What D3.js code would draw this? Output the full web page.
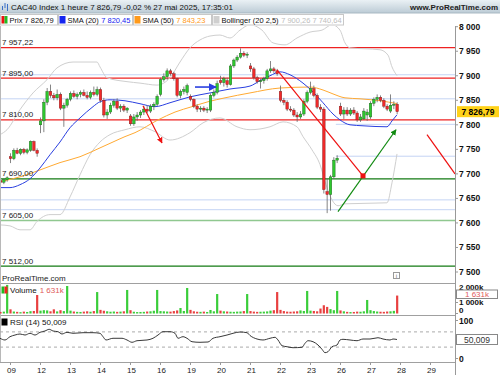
<!DOCTYPE html>
<html>
<head>
<meta charset="utf-8">
<script src="https://cdn.jsdelivr.net/npm/d3@7"></script>
<style>
  body { margin: 0; background: #fff; }
  svg { display: block; font-family: "Liberation Sans", Arial, sans-serif; }
</style>
</head>
<body>
<svg id="chart" width="500" height="375"></svg>
<script>
// ---- données ----
const dayLabels = ["09", "12", "13", "14", "15", "16", "19", "20", "21", "22", "23", "26", "27", "28", "29"];
const firstIndex = -3; // 3 bougies du 08 avant le 09

// [open, high, low, close], bougies 1 heure
const ohlc = [
  // 08
  [7686,7692,7680,7683],[7683,7690,7679,7688],[7688,7695,7684,7692],
  // 09
  [7735,7742,7722,7731],[7731,7752,7728,7748],[7748,7753,7740,7742],[7742,7752,7738,7750],[7750,7753,7740,7744],
  [7744,7752,7740,7749],[7748,7768,7745,7766],[7766,7768,7746,7748],[7748,7752,7735,7742],
  // 12
  [7800,7815,7783,7808],[7808,7852,7785,7846],[7846,7875,7840,7868],[7868,7882,7855,7860],[7860,7865,7850,7855],
  [7855,7872,7850,7862],[7862,7866,7830,7834],[7834,7845,7796,7840],[7840,7855,7835,7852],
  // 13
  [7852,7868,7848,7864],[7864,7870,7855,7858],[7858,7866,7852,7862],[7862,7870,7856,7866],[7866,7872,7858,7860],
  [7860,7868,7852,7856],[7856,7870,7852,7866],[7866,7878,7858,7862],[7862,7878,7858,7872],
  // 14
  [7872,7876,7845,7850],[7850,7855,7815,7820],[7820,7832,7812,7826],[7826,7845,7822,7840],[7840,7852,7835,7848],
  [7848,7854,7830,7834],[7834,7842,7826,7838],[7838,7842,7826,7830],[7830,7836,7824,7834],
  // 15
  [7818,7822,7798,7802],[7802,7822,7798,7816],[7816,7826,7808,7820],[7820,7830,7814,7826],[7826,7838,7820,7832],
  [7832,7840,7824,7828],[7828,7842,7824,7838],[7838,7846,7830,7842],[7842,7862,7838,7858],
  // 16
  [7862,7896,7858,7892],[7892,7905,7888,7898],[7898,7915,7892,7910],[7910,7914,7900,7904],[7904,7908,7890,7894],
  [7894,7896,7856,7860],[7860,7872,7854,7868],[7868,7878,7862,7872],[7866,7884,7860,7880],
  // 19
  [7858,7862,7848,7852],[7852,7854,7834,7838],[7838,7842,7826,7832],[7832,7838,7826,7834],[7834,7838,7826,7830],
  [7830,7836,7824,7832],[7830,7864,7826,7860],[7860,7872,7856,7866],[7866,7890,7862,7884],
  // 20
  [7890,7900,7882,7886],[7886,7898,7878,7894],[7890,7896,7876,7882],[7882,7924,7880,7920],[7920,7935,7916,7932],
  [7932,7942,7928,7938],[7938,7956,7935,7946],[7946,7950,7938,7942],[7942,7948,7936,7944],
  // 21
  [7920,7926,7908,7914],[7914,7918,7892,7896],[7896,7900,7884,7888],[7888,7894,7874,7890],[7890,7898,7884,7894],
  [7894,7914,7890,7910],[7910,7930,7906,7914],[7914,7918,7906,7910],[7910,7914,7900,7904],
  // 22
  [7868,7880,7846,7850],[7850,7855,7840,7846],[7846,7850,7828,7832],[7832,7838,7826,7830],[7830,7834,7816,7820],
  [7820,7826,7806,7816],[7816,7828,7812,7822],[7822,7852,7818,7848],[7848,7870,7844,7866],
  // 23
  [7866,7888,7862,7874],[7874,7880,7856,7860],[7860,7864,7832,7836],[7836,7842,7826,7832],[7832,7836,7660,7668],
  [7664,7690,7620,7658],[7658,7698,7625,7694],[7694,7734,7690,7728],[7728,7738,7722,7732],
  // 26
  [7838,7845,7818,7822],[7822,7836,7812,7830],[7830,7836,7818,7822],[7822,7834,7818,7830],[7830,7836,7820,7824],
  [7824,7828,7806,7810],[7810,7822,7806,7816],[7812,7834,7810,7828],[7820,7832,7808,7826],
  // 27
  [7816,7848,7812,7844],[7844,7856,7838,7852],[7852,7862,7846,7856],[7856,7860,7846,7850],[7850,7854,7834,7838],
  [7838,7842,7828,7832],[7828,7862,7824,7840],[7840,7848,7832,7842],[7842,7846,7822,7826.79]
];

// volumes en milliers
const volumes = [
  140, 170, 2600,
  380, 180, 150, 120, 170, 140, 210, 230, 1680,
  260, 300, 280, 200, 380, 190, 300, 220, 2500,
  260, 180, 150, 140, 170, 200, 160, 220, 1950,
  330, 250, 200, 160, 180, 150, 170, 200, 2140,
  300, 160, 130, 140, 150, 180, 200, 250, 2140,
  220, 200, 180, 170, 220, 280, 500, 230, 2320,
  330, 200, 160, 150, 170, 140, 320, 200, 1770,
  260, 200, 180, 160, 150, 170, 180, 220, 1770,
  220, 170, 150, 160, 170, 190, 260, 300, 1950,
  330, 220, 170, 160, 180, 200, 280, 230, 2050,
  260, 230, 200, 450, 750, 600, 400, 300, 2050,
  280, 200, 150, 130, 140, 170, 160, 200, 1230,
  300, 220, 180, 160, 150, 180, 200, 240, 1631
];

// indicateurs [indice bougie, valeur]
const sma20 = [[-3.15,7672],[-0.15,7672],[2.85,7678],[5.85,7690],[8.85,7712],[11.85,7739],[14.85,7765],[17.85,7794],
  [20.85,7814],[24.75,7837],[26.85,7847],[29.85,7851],[34.35,7849],[38.85,7843],[43.35,7837],[47.85,7845],[53.85,7857],
  [59.85,7865],[65.85,7873],[71.85,7879],[74.85,7890],[77.85,7900],[80.85,7908],[83.85,7902],[87.75,7885],[90.75,7867],
  [93.75,7845],[96.75,7822],[98.85,7810],[101.85,7800],[105.75,7798],[112.95,7796],[114.45,7808],[115.95,7820.45]];
const sma50 = [[-3.15,7684],[2.85,7694],[8.85,7708],[14.85,7723],[20.85,7735],[26.85,7753],[30.75,7765],[34.35,7776],
  [37.35,7784],[44.25,7810],[49.35,7826],[54.45,7837],[59.25,7847],[64.35,7855],[71.85,7865],[80.85,7875],[89.85,7877],
  [93.75,7871],[96.75,7863],[100.35,7855],[104.85,7853],[110.85,7849],[115.95,7843.23]];
const bollUpper = [[-3.15,7780],[-1.05,7790],[2.85,7831],[6.75,7865],[10.95,7892],[13.95,7916],[18.75,7928],[25.95,7928],
  [26.85,7918],[28.95,7896],[34.95,7888],[38.85,7885],[43.95,7881],[47.85,7896],[50.85,7928],[53.85,7957],[56.85,7973],
  [59.85,7981],[62.85,7983],[65.85,7977],[68.85,7993],[71.85,8004],[75.45,7993],[78.75,7967],[82.35,7963],[85.95,7977],
  [89.85,7989],[93.45,7993],[96.45,8004],[98.85,7993],[100.35,7967],[101.85,7957],[110.85,7953],[113.25,7942],
  [114.45,7918],[115.95,7900.26]];
const bollLower = [[-3.15,7596],[-0.15,7594],[2.85,7586],[5.85,7586],[7.95,7603],[11.85,7617],[14.85,7617],[17.85,7653],
  [20.85,7698],[23.85,7739],[26.85,7765],[29.85,7780],[34.35,7790],[38.85,7796],[43.35,7786],[47.85,7769],[53.85,7784],
  [57.75,7804],[62.85,7814],[67.95,7796],[71.85,7790],[77.85,7796],[81.75,7806],[85.95,7796],[87.75,7776],[90.45,7749],
  [92.85,7719],[94.65,7678],[96.45,7647],[98.25,7635],[100.35,7639],[112.95,7641],[114.45,7682],[115.95,7740.64]];
const rsi = [[-3.15,53.2],[-1.65,48.7],[-0.15,57.4],[1.35,61.8],[2.85,64.5],[4.35,61.8],[5.85,66.3],[7.35,61.8],
  [8.85,68.9],[10.35,72.4],[11.6,76.8],[12.75,72.4],[14.25,70.5],[15.45,64.5],[16.95,68.9],[18.75,66.3],[21.75,67.9],
  [24.75,67.9],[26.85,66.3],[27.75,57.4],[28.65,48.7],[30.75,53.2],[33.45,53.2],[34.95,48.7],[36.45,42.6],[37.95,46.8],
  [40.95,48.7],[42.75,53.2],[44.25,61.8],[45.75,70.5],[47.85,70.5],[49.35,66.3],[50.25,53.2],[51.75,57.4],[52.95,53.2],
  [54.45,44.2],[56.85,42.6],[59.25,43.4],[60.75,53.2],[62.85,57.4],[64.95,61.8],[66.75,66.3],[68.85,69.7],[70.95,67.9],
  [71.85,60.5],[73.95,51.3],[75.75,48.7],[77.85,53.2],[79.35,55.8],[80.25,48.7],[81.45,33.7],[82.95,31],[84.75,28.4],
  [87.45,29.5],[88.35,40],[89.25,46.8],[90.75,44.2],[92.25,35.5],[93.45,24.2],[94.35,15.3],[95.25,17.9],[96.45,31],
  [97.95,35.5],[98.85,48.7],[99.75,50.5],[101.85,48.7],[103.95,46.8],[105.75,51.3],[107.85,51.3],[110.25,54.7],
  [111.75,51.3],[113.85,48.7],[114.75,51.3],[115.95,50.0]];

// niveaux horizontaux
const redLevels = [7957.22, 7895, 7810];
const greenLevels = [7690, 7512];
const lightGreenLevels = [7605];
const blueLevels = [[7902, -4], [7853, -4], [7801, 97.6], [7736, 97.6], [7647, -4], [7627, -4]]; // [prix, début]
const levelLabels = ["7 957,22", "7 895,00", "7 810,00", "7 690,00", "7 605,00", "7 512,00"];
const levelLabelValues = [7957.22, 7895, 7810, 7690, 7605, 7512];

// tracés manuels [k1, p1, k2, p2]
const redArrow = [39.75, 7839, 45.45, 7763];
const blueArrow = [55.35, 7877, 61.65, 7877];
const redTrend = [79.95, 7912, 105.75, 7696];
const greenArrow = [98.25, 7623, 115.65, 7790];
const redRight = [124.95, 7780, 133.35, 7700];

const priceTicks = [8000, 7950, 7900, 7850, 7800, 7750, 7700, 7650, 7600, 7550, 7500];
const volTicks = [2000, 1000, 0];
const rsiTicks = [100, 0];

// ---- mise en page ----
const svg = d3.select("#chart");
const plotR = 455;
const fmt = v => d3.format(",")(v).replace(/,/g, " ");

const x = d3.scaleLinear().domain([0, 9]).range([10.5, 40.5]);
const yP = d3.scaleLinear().domain([7500, 8000]).range([272.0, 26.7]);
const yV = d3.scaleLinear().domain([0, 2000]).range([313.5, 291.5]);
const yR = d3.scaleLinear().domain([0, 100]).range([358.5, 320.5]);

const defs = svg.append("defs");
const grad = defs.append("linearGradient").attr("id", "tg").attr("x1", 0).attr("y1", 0).attr("x2", 0).attr("y2", 1);
grad.append("stop").attr("offset", "0%").attr("stop-color", "#eaf1f5");
grad.append("stop").attr("offset", "100%").attr("stop-color", "#bccbd5");
defs.append("clipPath").attr("id", "cp").append("rect").attr("x", 0).attr("y", 26).attr("width", plotR).attr("height", 257);

function marker(id, color) {
  defs.append("marker").attr("id", id).attr("viewBox", "0 0 10 10").attr("refX", 9).attr("refY", 5)
    .attr("markerWidth", 5).attr("markerHeight", 5).attr("orient", "auto")
    .append("path").attr("d", "M0,0L10,5L0,10z").attr("fill", color);
}
marker("mRed", "#ee1111");
marker("mBlue", "#2a3fe0");
marker("mGreen", "#108a10");

// barre de titre
svg.append("rect").attr("width", 500).attr("height", 13).attr("fill", "url(#tg)");
svg.append("line").attr("x1", 0).attr("x2", 500).attr("y1", 13).attr("y2", 13).attr("stroke", "#a9b9c3");
const icon = svg.append("g").attr("stroke", "#3a70c8").attr("stroke-width", 1);
[[2.5, 6, 10], [5, 3, 8], [7.5, 4, 11]].forEach(d => icon.append("line").attr("x1", d[0]).attr("x2", d[0]).attr("y1", d[1]).attr("y2", d[2]));
svg.append("text").attr("x", 11).attr("y", 9.8).attr("font-size", 8).attr("fill", "#111")
  .text("CAC40 Index 1 heure 7 826,79 -0,02 % 27 mai 2025, 17:35:01");
svg.append("text").attr("x", 498).attr("y", 9.8).attr("font-size", 8).attr("font-weight", "bold").attr("text-anchor", "end")
  .attr("fill", "#222").text("www.ProRealTime.com");

// légende
const legend = [
  { x0: 0, x1: 58, colors: ["#e11", "#2b2"], label: "Prix 7 826,79", value: "", vc: "#000" },
  { x0: 58, x1: 133, colors: ["#1525f0"], label: "SMA (20)", value: "7 820,45", vc: "#1525f0" },
  { x0: 133, x1: 212, colors: ["#ff9a1a"], label: "SMA (50)", value: "7 843,23", vc: "#ff9a1a" },
  { x0: 212, x1: 344, colors: ["#cfcfcf"], label: "Bollinger (20 2,5)", value: "7 900,26 7 740,64", vc: "#bdbdbd" }
];
legend.forEach(d => {
  const g = svg.append("g");
  g.append("rect").attr("x", d.x0 + 0.5).attr("y", 14.5).attr("width", d.x1 - d.x0 - 1).attr("height", 10.5)
    .attr("fill", "#fff").attr("stroke", "#c8c8c8");
  const w = 6 / d.colors.length;
  d.colors.forEach((c, i) => g.append("rect").attr("x", d.x0 + 1.5 + i * w).attr("y", 16).attr("width", w).attr("height", 7.5).attr("fill", c));
  const t = g.append("text").attr("x", d.x0 + 9.5).attr("y", 22.5).attr("font-size", 7.5).attr("fill", "#111");
  t.append("tspan").text(d.label);
  if (d.value) t.append("tspan").attr("fill", d.vc).attr("dx", 2.5).text(d.value);
});

// panneau prix
const pane = svg.append("g").attr("clip-path", "url(#cp)");
blueLevels.forEach(d => pane.append("line").attr("x1", x(d[1])).attr("x2", plotR).attr("y1", yP(d[0])).attr("y2", yP(d[0]))
  .attr("stroke", "#c4d4f4").attr("stroke-width", 1));
lightGreenLevels.forEach(v => pane.append("line").attr("x1", 0).attr("x2", plotR).attr("y1", yP(v)).attr("y2", yP(v))
  .attr("stroke", "#90c890").attr("stroke-width", 1.3));
redLevels.forEach(v => pane.append("line").attr("x1", 0).attr("x2", plotR).attr("y1", yP(v)).attr("y2", yP(v))
  .attr("stroke", "#ee2222").attr("stroke-width", 1.2));
greenLevels.forEach(v => pane.append("line").attr("x1", 0).attr("x2", plotR).attr("y1", yP(v)).attr("y2", yP(v))
  .attr("stroke", "#137a13").attr("stroke-width", 1.3));

levelLabelValues.forEach((v, i) => svg.append("text").attr("x", 2).attr("y", yP(v) - 2.5).attr("font-size", 8)
  .attr("fill", "#222").text(levelLabels[i]));

const line = d3.line().x(d => x(d[0])).y(d => yP(d[1])).curve(d3.curveMonotoneX);
pane.append("path").attr("d", line(bollUpper)).attr("fill", "none").attr("stroke", "#cfcfcf").attr("stroke-width", 1);
pane.append("path").attr("d", line(bollLower)).attr("fill", "none").attr("stroke", "#cfcfcf").attr("stroke-width", 1);
pane.append("path").attr("d", line(sma50)).attr("fill", "none").attr("stroke", "#ffaa33").attr("stroke-width", 1);
pane.append("path").attr("d", line(sma20)).attr("fill", "none").attr("stroke", "#2a3fe0").attr("stroke-width", 1);

// bougies
const candles = pane.append("g");
ohlc.forEach((d, i) => {
  const k = firstIndex + i, cx = x(k);
  const up = d[3] >= d[0];
  candles.append("line").attr("x1", cx).attr("x2", cx).attr("y1", yP(d[1])).attr("y2", yP(d[2]))
    .attr("stroke", "#666").attr("stroke-width", 0.8);
  const top = yP(Math.max(d[0], d[3])), bot = yP(Math.min(d[0], d[3]));
  candles.append("rect").attr("x", cx - 1.3).attr("y", top).attr("width", 2.6).attr("height", Math.max(1, bot - top))
    .attr("fill", up ? "#2ec82e" : "#f02a2a").attr("stroke", up ? "#1d5e1d" : "#7a1a1a").attr("stroke-width", 0.4);
});

// tracés
function seg(a, color, mk, w) {
  const l = pane.append("line").attr("x1", x(a[0])).attr("y1", yP(a[1])).attr("x2", x(a[2])).attr("y2", yP(a[3]))
    .attr("stroke", color).attr("stroke-width", w);
  if (mk) l.attr("marker-end", `url(#${mk})`);
}
seg(redArrow, "#ee1111", "mRed", 1.2);
seg(blueArrow, "#2a3fe0", "mBlue", 1.6);
seg(redTrend, "#ee1111", null, 1.2);
seg(greenArrow, "#108a10", "mGreen", 1.2);
seg(redRight, "#ee1111", null, 1.2);
pane.append("rect").attr("x", x(redTrend[2]) - 2.5).attr("y", yP(redTrend[3]) - 2.5).attr("width", 5).attr("height", 5).attr("fill", "#ee1111");

svg.append("text").attr("x", 2).attr("y", 281).attr("font-size", 8).attr("fill", "#222").text("ProRealTime.com");
svg.append("rect").attr("x", 393.5).attr("y", 272.5).attr("width", 6).attr("height", 6).attr("fill", "#fff").attr("stroke", "#999");
svg.append("text").attr("x", 396.5).attr("y", 278).attr("font-size", 6).attr("text-anchor", "middle").attr("fill", "#666").text("i");

// séparateurs de panneaux
[283.5, 315.5, 362.5].forEach(y => svg.append("line").attr("x1", 0).attr("x2", plotR).attr("y1", y).attr("y2", y).attr("stroke", "#a0a0a0"));
svg.append("line").attr("x1", 0.5).attr("x2", 0.5).attr("y1", 26).attr("y2", 362).attr("stroke", "#b8b8b8");
svg.append("line").attr("x1", plotR + 0.5).attr("x2", plotR + 0.5).attr("y1", 26).attr("y2", 375).attr("stroke", "#999");

// axe prix
priceTicks.forEach(v => {
  svg.append("line").attr("x1", plotR).attr("x2", plotR + 3).attr("y1", yP(v)).attr("y2", yP(v)).attr("stroke", "#999");
  svg.append("text").attr("x", plotR + 4).attr("y", yP(v) + 3).attr("font-size", 8.5).attr("font-weight", "bold")
    .attr("fill", "#111").text(fmt(v));
});
const last = ohlc[ohlc.length - 1][3];
svg.append("rect").attr("x", 457).attr("y", yP(last) - 5.5).attr("width", 42).attr("height", 11).attr("fill", "#ffd21a");
svg.append("text").attr("x", 478).attr("y", yP(last) + 3).attr("text-anchor", "middle").attr("font-size", 8.5)
  .attr("font-weight", "bold").attr("fill", "#000").text("7 826,79");

// volume
const vg = svg.append("g");
volumes.forEach((v, i) => {
  const d = ohlc[i], up = d[3] >= d[0], cx = x(firstIndex + i);
  vg.append("rect").attr("x", cx - 1.1).attr("y", yV(v)).attr("width", 2.2).attr("height", yV(0) - yV(v))
    .attr("fill", up ? "#3acd3a" : "#e84040");
});
vg.append("rect").attr("x", 1.5).attr("y", 286.5).attr("width", 3).attr("height", 7).attr("fill", "#2b2");
vg.append("rect").attr("x", 4.5).attr("y", 286.5).attr("width", 3).attr("height", 7).attr("fill", "#e22");
const vt = vg.append("text").attr("x", 10).attr("y", 293).attr("font-size", 8).attr("fill", "#111");
vt.append("tspan").text("Volume");
vt.append("tspan").attr("dx", 3).attr("fill", "#e05a5a").text("1 631k");
const volLabelDy = { 2000: -2, 1000: 2.5, 0: -1 };
volTicks.forEach(v => {
  svg.append("line").attr("x1", plotR).attr("x2", plotR + 3).attr("y1", yV(v)).attr("y2", yV(v)).attr("stroke", "#999");
  svg.append("text").attr("x", plotR + 4).attr("y", yV(v) + volLabelDy[v]).attr("font-size", 8)
    .attr("font-weight", "bold").attr("fill", "#111").text(v === 0 ? "0" : fmt(v) + "k");
});
svg.append("rect").attr("x", 456.5).attr("y", 290).attr("width", 41).attr("height", 8.5).attr("fill", "#fff").attr("stroke", "#888");
svg.append("text").attr("x", 477).attr("y", 297).attr("text-anchor", "middle").attr("font-size", 8)
  .attr("fill", "#e05a5a").text("1 631k");

// RSI
[70, 30].forEach(v => svg.append("line").attr("x1", 0).attr("x2", plotR).attr("y1", yR(v)).attr("y2", yR(v))
  .attr("stroke", "#aaa").attr("stroke-dasharray", "3,3"));
const rline = d3.line().x(d => x(d[0])).y(d => yR(d[1])).curve(d3.curveMonotoneX);
svg.append("path").attr("d", rline(rsi)).attr("fill", "none").attr("stroke", "#222").attr("stroke-width", 0.9);
svg.append("rect").attr("x", 1.5).attr("y", 318.5).attr("width", 6).attr("height", 7).attr("fill", "#000");
svg.append("text").attr("x", 10).attr("y", 325).attr("font-size", 8).attr("fill", "#111").text("RSI (14) 50,009");
rsiTicks.forEach(v => {
  svg.append("line").attr("x1", plotR).attr("x2", plotR + 3).attr("y1", yR(v)).attr("y2", yR(v)).attr("stroke", "#999");
  svg.append("text").attr("x", plotR + 4).attr("y", yR(v) + 3).attr("font-size", 8.5).attr("font-weight", "bold")
    .attr("fill", "#111").text(v);
});
svg.append("rect").attr("x", 456.5).attr("y", yR(50) - 5).attr("width", 41).attr("height", 10).attr("fill", "#fff").attr("stroke", "#888");
svg.append("text").attr("x", 477).attr("y", yR(50) + 3).attr("text-anchor", "middle").attr("font-size", 8.5)
  .attr("fill", "#333").text("50,009");

// axe temps
dayLabels.forEach((lab, i) => {
  const xx = x(i * 9);
  svg.append("line").attr("x1", xx).attr("x2", xx).attr("y1", 362.5).attr("y2", 365).attr("stroke", "#999");
  svg.append("text").attr("x", xx + 1).attr("y", 372.5).attr("text-anchor", "middle").attr("font-size", 8).attr("fill", "#222").text(lab);
});
</script>
</body>
</html>
